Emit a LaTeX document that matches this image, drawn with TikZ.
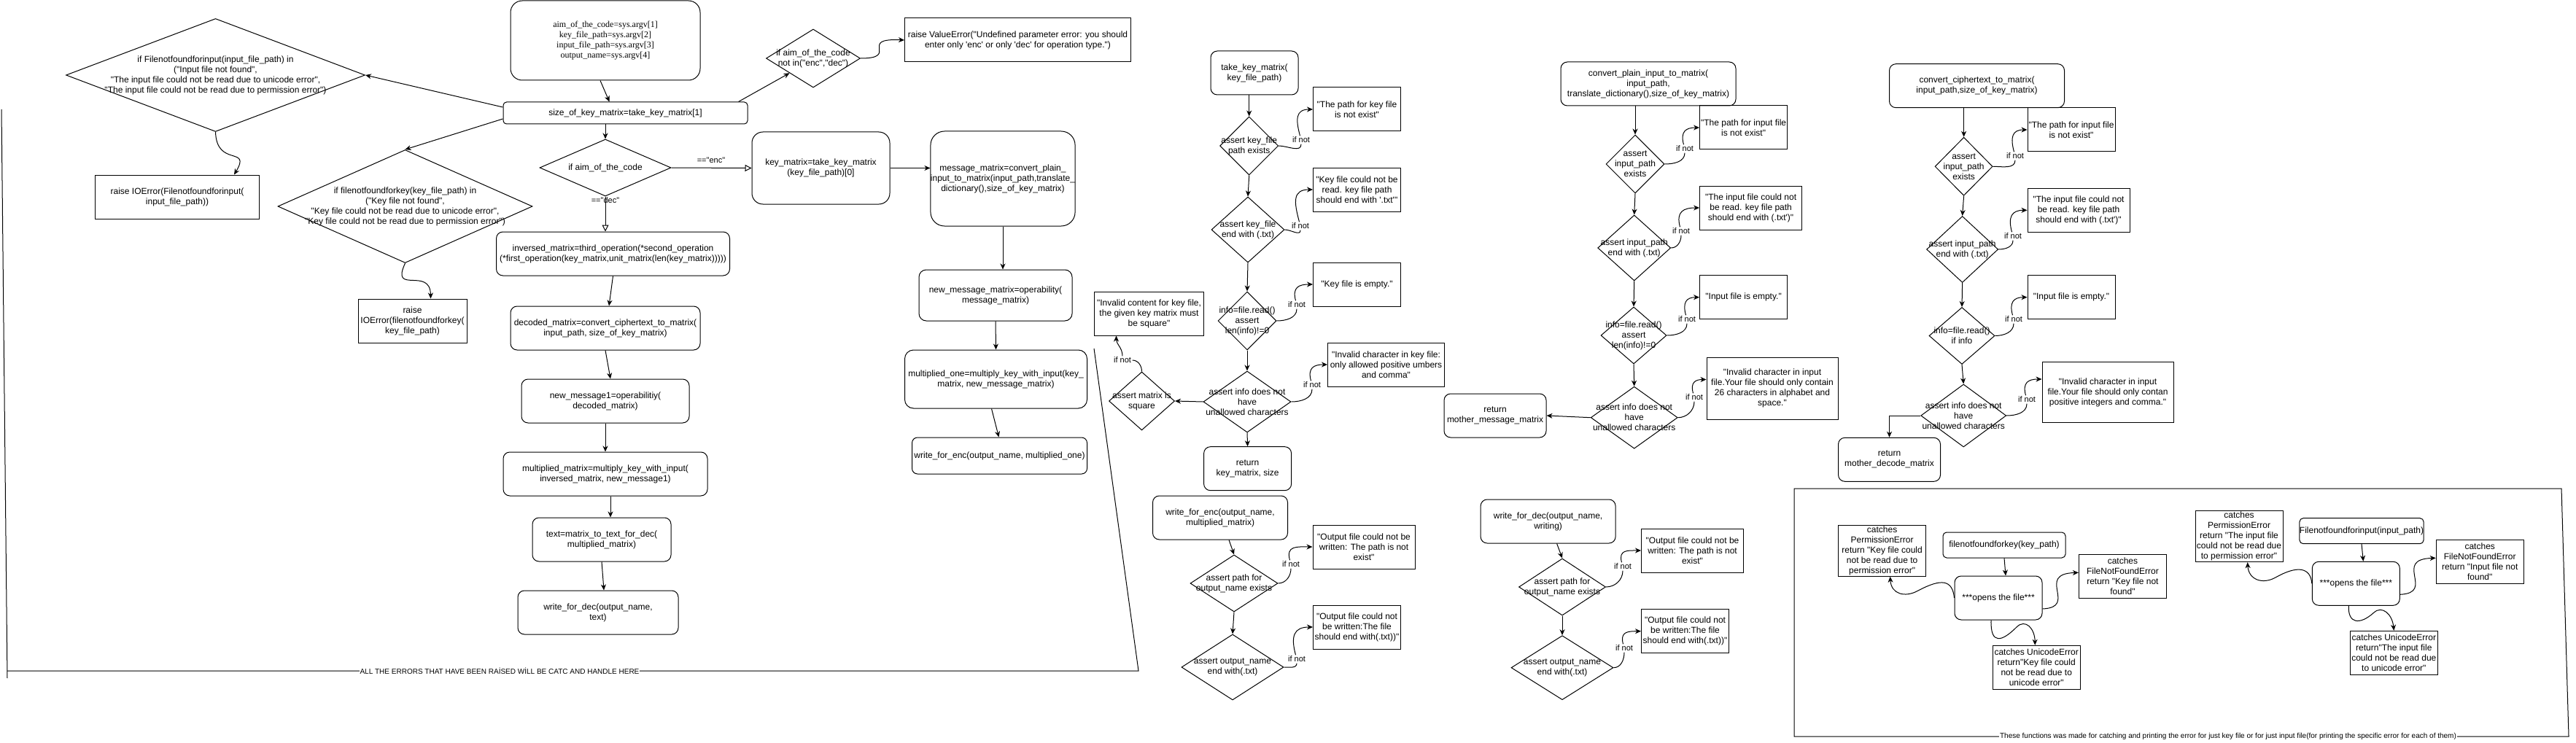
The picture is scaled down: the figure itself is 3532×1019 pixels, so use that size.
\documentclass[tikz,border=0pt]{standalone}
\usepackage{fontspec}
\newfontfamily\lsans{Liberation Sans}
\newfontfamily\lserif{Liberation Serif}
\usetikzlibrary{shapes.geometric,arrows.meta,calc}
\tikzset{
  base/.style={draw, line width=1pt, font=\lsans\fontsize{12}{14}\selectfont, align=center, inner sep=0pt},
  bx/.style 2 args={base, rectangle, minimum width=#1pt, minimum height=#2pt},
  rb/.style n args={3}{base, rectangle, minimum width=#1pt, minimum height=#2pt, rounded corners=#3pt},
  dia/.style 2 args={draw, line width=1pt, diamond, inner sep=0pt, minimum width=#1pt, minimum height=#2pt},
  tx/.style={font=\lsans\fontsize{12}{14}\selectfont, align=center, inner sep=0pt},
  lab/.style={font=\lsans\fontsize{11}{13}\selectfont, inner sep=1.5pt},
  note/.style={font=\lsans\fontsize{10}{12}\selectfont, inner sep=1pt, fill=white},
  arr/.style={line width=1pt, -{Stealth[length=8pt,width=7pt,inset=2.5pt]}},
  oarr/.style={line width=1pt, -{Triangle[open,length=9pt,width=9pt]}},
  ln/.style={line width=1pt},
}
\newcommand\dmd[5]{\node[dia={#3}{#4}] (#1) at (#2) {};\node[tx] (#1t) at (#2) {#5};}
\newcommand\ifn[3]{\draw[arr] (#1) to[out=0,in=-90] (#2) to[out=105,in=180,looseness=1.5] (#3);}
\begin{document}
\begin{tikzpicture}[x=1pt,y=-1pt]
\fill[white] (0,0) rectangle (3532,1019);
\useasboundingbox (0,0) rectangle (3532,1019);

% ---------------- main program ----------------
\node[rb={260}{109}{16}, font=\lserif\fontsize{12}{14}\selectfont] (start) at (830,55.5) {aim\_of\_the\_code=sys.argv[1]\\key\_file\_path=sys.argv[2]\\input\_file\_path=sys.argv[3]\\output\_name=sys.argv[4]};
\node[rb={335}{30}{4.5}] (size) at (857.5,155) {size\_of\_key\_matrix=take\_key\_matrix[1]};
\dmd{din}{295.5,103}{410}{155}{if Filenotfoundforinput(input\_file\_path) in\\("Input file not found",\\"The input file could not be read due to unicode error",\\"The input file could not be read due to permission error")}
\node[bx={225}{60}] (bio) at (243,270) {raise IOError(Filenotfoundforinput(\\input\_file\_path))};
\dmd{dkey}{555.5,283}{349}{155}{if filenotfoundforkey(key\_file\_path) in\\("Key file not found",\\"Key file could not be read due to unicode error",\\"Key file could not be read due to permission error")}
\node[bx={149}{60}] (bkey) at (565.5,440) {raise\\IOError(filenotfoundforkey(\\key\_file\_path)};
\dmd{dni}{1115,80}{129}{80}{if aim\_of\_the\_code\\not in("enc","dec")}
\node[bx={310}{60}] (bve) at (1395.5,55) {raise ValueError("Undefined parameter error: you should\\enter only 'enc' or only 'dec' for operation type.")};
\dmd{daim}{830,230}{180}{78}{if aim\_of\_the\_code}
\node[rb={189}{99}{15}] (bkm) at (1125.5,230.5) {key\_matrix=take\_key\_matrix\\(key\_file\_path)[0]};
\node[lab] (lenc) at (975,220) {=="enc"};
\node[lab] (ldec) at (830,275) {=="dec"};
\node[rb={320}{60}{9}] (binv) at (840.5,348) {inversed\_matrix=third\_operation(*second\_operation\\(*first\_operation(key\_matrix,unit\_matrix(len(key\_matrix)))))};
\node[rb={260}{60}{9}] (bdec) at (830,450) {decoded\_matrix=convert\_ciphertext\_to\_matrix(\\input\_path, size\_of\_key\_matrix)};
\node[rb={230}{60}{9}] (bnm1) at (830,550) {new\_message1=operabilitiy(\\decoded\_matrix)};
\node[rb={280}{60}{9}] (bmm) at (830,650) {multiplied\_matrix=multiply\_key\_with\_input(\\inversed\_matrix, new\_message1)};
\node[rb={190}{60}{9}] (btext) at (825,740) {text=matrix\_to\_text\_for\_dec(\\multiplied\_matrix)};
\node[rb={220}{60}{9}] (bwfd) at (820,840) {write\_for\_dec(output\_name,\\text)};

\node[rb={190}{130}{19}] (bmsg) at (1375,245) {message\_matrix=convert\_plain\_\\input\_to\_matrix(input\_path,translate\_\\dictionary(),size\_of\_key\_matrix)};
\node[rb={210}{70}{10}] (bnmm) at (1365,405) {new\_message\_matrix=operability(\\message\_matrix)};
\node[rb={250}{80}{12}] (bmo) at (1365.5,520) {multiplied\_one=multiply\_key\_with\_input(key\_\\matrix, new\_message\_matrix)};
\node[rb={240}{50}{7.5}] (bwfe) at (1370.5,625) {write\_for\_enc(output\_name, multiplied\_one)};

\draw[arr] ([xshift=-7pt]start.south) -- ([xshift=-22pt]size.north);
\draw[arr] ([yshift=8pt]size.west) -- (din.east);
\draw[arr] ([yshift=-8pt]size.west) -- (dkey.north);
\draw[arr] ([xshift=155pt]size.north) -- (dni.south west);
\draw[arr] (daim.north |- size.south) -- (daim.north);
\draw[arr] (din.south) .. controls (297,230) and (345,200) .. ([xshift=78pt]bio.north);
\draw[arr] (dkey.south) .. controls (535,405) and (590,365) .. ([xshift=25pt]bkey.north);
\draw[arr] (dni.east) .. controls (1235,80) and (1175,52) .. (bve.west);
\draw[oarr] (daim.east) -- (bkm.west);
\draw[oarr] (daim.south) -- (daim.south |- binv.north);
\draw[arr] (binv.south) -- ([xshift=5pt]bdec.north);
\draw[arr] (bdec.south) -- ([xshift=7pt]bnm1.north);
\draw[arr] (bnm1.south) -- (bmm.north);
\draw[arr] ([xshift=7pt]bmm.south) -- ([xshift=12pt]btext.north);
\draw[arr] (btext.south) -- ([xshift=8pt]bwfd.north);
\draw[arr] (bkm.east) -- (bkm.east -| bmsg.west);
\draw[arr] (bmsg.south) -- (bmsg.south |- bnmm.north);
\draw[arr] (bnmm.south) -- (bmo.north);
\draw[arr] ([xshift=-6pt]bmo.south) -- ([xshift=-1pt]bwfe.north);

% ---------------- take_key_matrix ----------------
\node[rb={120}{60}{9}] (btk) at (1720,100) {take\_key\_matrix(\\key\_file\_path)};
\dmd{dk1}{1712.7,200}{80}{80}{assert key\_file\\path exists}
\dmd{dk2}{1711,315}{100}{90}{assert key\_file\\end with (.txt)}
\dmd{dk3}{1710,440}{80}{80}{info=file.read()\\assert\\len(info)!=0}
\dmd{dk4}{1710,551}{120}{84}{assert info does not\\have\\unallowed characters}
\dmd{dsq}{1565.5,550}{90}{80}{assert matrix is\\square}
\node[bx={150}{60}] (bsq) at (1575.5,430) {"Invalid content for key file,\\the given key matrix must\\be square"};
\node[rb={120}{60}{9}] (bret) at (1710.6,642.7) {return\\key\_matrix, size};
\node[bx={120}{60}] (bk1) at (1860.5,150) {"The path for key file\\is not exist"};
\node[bx={120}{60}] (bk2) at (1860.5,260) {"Key file could not be\\read. key file path\\should end with '.txt'"};
\node[bx={120}{60}] (bk3) at (1860.5,390) {"Key file is empty."};
\node[bx={160}{60}] (bk4) at (1900.5,500) {"Invalid character in key file:\\only allowed positive umbers\\and comma"};
\node[lab] (lk1) at (1784,192) {if not};
\node[lab] (lk2) at (1783,310) {if not};
\node[lab] (lk3) at (1778,418) {if not};
\node[lab] (lk4) at (1799,528) {if not};
\node[lab] (lsq) at (1539,494) {if not};
\draw[arr] (dk1.north |- btk.south) -- (dk1.north);
\draw[arr] (dk1.south) -- (dk2.north);
\draw[arr] (dk2.south) -- (dk3.north);
\draw[arr] (dk3.south) -- (dk4.north);
\draw[arr] (dk4.west) -- (dsq.east);
\draw[arr] (dk4.south) -- (bret.north);
\ifn{dk1.east}{lk1}{bk1.west}
\ifn{dk2.east}{lk2}{bk2.west}
\ifn{dk3.east}{lk3}{bk3.west}
\ifn{dk4.east}{lk4}{bk4.west}
\draw[arr] (dsq.north) to[out=90,in=0] (lsq) to[out=90,in=-90] ([xshift=-45pt]bsq.south);

% write_for_enc
\node[rb={185}{60}{9}] (bwfe2) at (1673,710) {write\_for\_enc(output\_name,\\multiplied\_matrix)};
\dmd{dw1}{1692,800}{120}{78}{assert path for\\output\_name exists}
\dmd{dw2}{1690,915}{140}{90}{assert output\_name\\end with(.txt)}
\node[bx={140}{60}] (bw1) at (1870,750) {"Output file could not be\\written: The path is not\\exist"};
\node[bx={120}{60}] (bw2) at (1860.5,860) {"Output file could not\\be written:The file\\should end with(.txt))"};
\node[lab] (lw1) at (1770,774) {if not};
\node[lab] (lw2) at (1778,904) {if not};
\draw[arr] ([xshift=12pt]bwfe2.south) -- (dw1.north);
\draw[arr] (dw1.south) -- (dw2.north);
\ifn{dw1.east}{lw1}{bw1.west}
\ifn{dw2.east}{lw2}{bw2.west}

% ---------------- convert_plain_input_to_matrix ----------------
\node[rb={240}{60}{9}] (bcp) at (2260,115) {convert\_plain\_input\_to\_matrix(\\input\_path,\\translate\_dictionary(),size\_of\_key\_matrix)};
\dmd{dp1}{2242,225}{80}{80}{assert\\input\_path\\exists}
\dmd{dp2}{2240.7,340}{100}{90}{assert input\_path\\end with (.txt)}
\dmd{dp3}{2240,460}{90}{78}{info=file.read()\\assert\\len(info)!=0}
\dmd{dp4}{2240.7,572.7}{119}{85}{assert info does not\\have\\unallowed characters}
\node[rb={140}{60}{9}] (bret2) at (2050,570) {return\\mother\_message\_matrix};
\node[bx={120}{60}] (bp1) at (2390.6,175) {"The path for input file\\is not exist"};
\node[bx={140}{60}] (bp2) at (2400.6,285) {"The input file could not\\be read. key file path\\should end with (.txt')"};
\node[bx={120}{60}] (bp3) at (2390.6,407.7) {"Input file is empty."};
\node[bx={180}{85}] (bp4) at (2430,532.5) {"Invalid character in input\\file.Your file should only contain\\26 characters in alphabet and\\space."};
\node[lab] (lp1) at (2310,204) {if not};
\node[lab] (lp2) at (2305,317) {if not};
\node[lab] (lp3) at (2313,438) {if not};
\node[lab] (lp4) at (2323,545) {if not};
\draw[arr] (dp1.north |- bcp.south) -- (dp1.north);
\draw[arr] (dp1.south) -- (dp2.north);
\draw[arr] (dp2.south) -- (dp3.north);
\draw[arr] (dp3.south) -- (dp4.north);
\draw[arr] (dp4.west) -- (bret2.east);
\ifn{dp1.east}{lp1}{bp1.west}
\ifn{dp2.east}{lp2}{bp2.west}
\ifn{dp3.east}{lp3}{bp3.west}
\ifn{dp4.east}{lp4}{[yshift=12pt]bp4.west}

% write_for_dec
\node[rb={185}{60}{9}] (bwfd2) at (2122.6,715) {write\_for\_dec(output\_name,\\writing)};
\dmd{dd1}{2142,805}{119}{78}{assert path for\\output\_name exists}
\dmd{dd2}{2142,915.7}{140}{88}{assert output\_name\\end with(.txt)}
\node[bx={140}{60}] (bd1) at (2320.5,755) {"Output file could not be\\written: The path is not\\exist"};
\node[bx={120}{60}] (bd2) at (2310.5,865.7) {"Output file could not\\be written:The file\\should end with(.txt))"};
\node[lab] (ld1) at (2225,777) {if not};
\node[lab] (ld2) at (2227,889) {if not};
\draw[arr] ([xshift=12pt]bwfd2.south) -- (dd1.north);
\draw[arr] (dd1.south) -- (dd2.north);
\ifn{dd1.east}{ld1}{bd1.west}
\ifn{dd2.east}{ld2}{bd2.west}

% ---------------- convert_ciphertext_to_matrix ----------------
\node[rb={240}{60}{9}] (bcc) at (2710.5,117.7) {convert\_ciphertext\_to\_matrix(\\input\_path,size\_of\_key\_matrix)};
\dmd{dc1}{2692.6,228.3}{79}{80}{assert\\input\_path\\exists}
\dmd{dc2}{2690.6,342}{98}{91}{assert input\_path\\end with (.txt)}
\dmd{dc3}{2690,460.5}{90}{78}{info=file.read()\\if info}
\dmd{dc4}{2692.2,570}{117}{86}{assert info does not\\have\\unallowed characters}
\node[rb={140}{60}{9}] (bret3) at (2590.5,630.3) {return\\mother\_decode\_matrix};
\node[bx={120}{60}] (bc1) at (2840,178) {"The path for input file\\is not exist"};
\node[bx={140}{60}] (bc2) at (2850,288.3) {"The input file could not\\be read. key file path\\should end with (.txt')"};
\node[bx={120}{60}] (bc3) at (2840,407.7) {"Input file is empty."};
\node[bx={180}{83}] (bc4) at (2890,538) {"Invalid character in input\\file.Your file should only contan\\positive integers and comma."};
\node[lab] (lc1) at (2763,214) {if not};
\node[lab] (lc2) at (2760,324) {if not};
\node[lab] (lc3) at (2761,438) {if not};
\node[lab] (lc4) at (2779,548) {if not};
\draw[arr] (dc1.north |- bcc.south) -- (dc1.north);
\draw[arr] (dc1.south) -- (dc2.north);
\draw[arr] (dc2.south) -- (dc3.north);
\draw[arr] (dc3.south) -- (dc4.north);
\draw[arr] (dc4.west) -| (bret3.north);
\ifn{dc1.east}{lc1}{bc1.west}
\ifn{dc2.east}{lc2}{bc2.west}
\ifn{dc3.east}{lc3}{bc3.west}
\ifn{dc4.east}{lc4}{[yshift=18pt]bc4.west}

% ---------------- error catching functions ----------------
\node[bx={120}{70}] (bperm1) at (2580.6,755.3) {catches\\PermissionError\\return "Key file could\\not be read due to\\permission error"};
\node[rb={168}{35}{5}] (bfk) at (2748,747.5) {filenotfoundforkey(key\_path)};
\node[rb={120}{60}{9}] (ok) at (2740,820) {***opens the file***};
\node[bx={120}{60}] (bfnf1) at (2910.4,790.3) {catches\\FileNotFoundError\\return "Key file not\\found"};
\node[bx={120}{60}] (buni1) at (2792.2,915.3) {catches UnicodeError\\return"Key file could\\not be read due to\\unicode error"};
\draw[arr] (bfk.south) -- ([xshift=10pt]ok.north);
\draw[arr] (ok.west) .. controls (2677,795) and (2662,793) .. (2630,810) .. controls (2612,820) and (2593,815) .. ([xshift=11pt]bperm1.south);
\draw[arr] ([yshift=-15pt]ok.east) .. controls (2850,833) and (2790,787) .. ([yshift=5pt]bfnf1.west);
\draw[arr] ([xshift=-10pt]ok.south) .. controls (2729,885) and (2745,880) .. (2765,860) .. controls (2777,848) and (2790,862) .. ([xshift=-2pt]buni1.north);

\node[bx={120}{70}] (bperm2) at (3070,735.7) {catches\\PermissionError\\return "The input file\\could not be read due\\to permission error"};
\node[rb={168}{35}{5}] (bfi) at (3238,728.2) {Filenotfoundforinput(input\_path)};
\node[rb={120}{60}{9}] (oi) at (3230.3,800.3) {***opens the file***};
\node[bx={120}{60}] (bfnf2) at (3400.2,770.3) {catches\\FileNotFoundError\\return "Input file not\\found"};
\node[bx={120}{60}] (buni2) at (3282.3,895.3) {catches UnicodeError\\return"The input file\\could not be read due\\to unicode error"};
\draw[arr] (bfi.south) -- ([xshift=10pt]oi.north);
\draw[arr] (oi.west) .. controls (3168,778) and (3150,775) .. (3120,792) .. controls (3102,802) and (3083,795) .. ([xshift=11.6pt]bperm2.south);
\draw[arr] ([yshift=-15pt]oi.east) .. controls (3340,813) and (3280,767) .. ([yshift=5pt]bfnf2.west);
\draw[arr] ([xshift=-10pt]oi.south) .. controls (3219,855) and (3235,858) .. (3255,840) .. controls (3266,830) and (3280,842) .. (buni2.north);

% ---------------- frames ----------------
\draw[ln] (1500,478) -- (1561,920) -- (10,920);
\draw[ln] (2,150) -- (10,930);
\node[note] (nall) at (685,920) {ALL THE ERRORS THAT HAVE BEEN RAİSED WİLL BE CATC AND HANDLE HERE};
\draw[ln] (2460,670) -- (3512,670) -- (3522,1010) -- (2460,1010) -- cycle;
\node[note] (nfun) at (3055,1010) {These functions was made for catching and printing the error for just key file or for just input file(for printing the specific error for each of them)};
\end{tikzpicture}
\end{document}
